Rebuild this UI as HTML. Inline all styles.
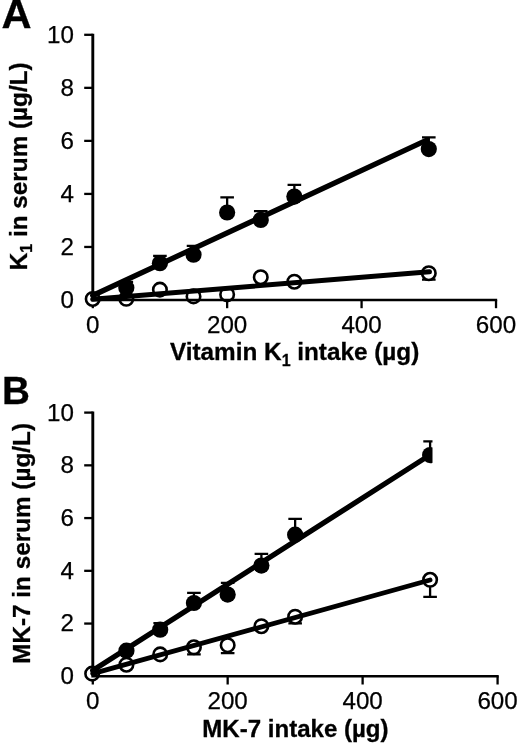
<!DOCTYPE html>
<html><head><meta charset="utf-8"><title>Figure</title>
<style>
html,body{margin:0;padding:0;background:#fff;}
svg{display:block;}
text{font-family:"Liberation Sans",Arial,Helvetica,sans-serif;fill:#000;}
.t{font-size:24.2px;stroke:#000;stroke-width:0.25px;}
.b{font-size:24.3px;font-weight:bold;stroke:#000;stroke-width:0.3px;}
.yb{font-size:24.3px;font-weight:bold;stroke:#000;stroke-width:0.3px;}
.p{font-size:38.7px;font-weight:bold;stroke:#000;stroke-width:0.3px;}
</style></head><body>
<svg width="520" height="743" viewBox="0 0 520 743">
<defs><clipPath id="cb"><rect x="0" y="380" width="432.5" height="363"/></clipPath></defs>
<rect width="520" height="743" fill="#fff"/>
<text transform="translate(1.6 28.3) scale(1.075 1.03)" class="p">A</text>
<text x="1.9" y="404.1" class="p">B</text>
<path d="M92.8 33.65 V301.15" stroke="#000" stroke-width="2.9" fill="none"/>
<path d="M84.2 246.96 H92.8" stroke="#000" stroke-width="2.3"/>
<path d="M84.2 193.92 H92.8" stroke="#000" stroke-width="2.3"/>
<path d="M84.2 140.88 H92.8" stroke="#000" stroke-width="2.3"/>
<path d="M84.2 87.84 H92.8" stroke="#000" stroke-width="2.3"/>
<path d="M84.2 34.80 H92.8" stroke="#000" stroke-width="2.3"/>
<path d="M92.80 300.00 V308.20" stroke="#000" stroke-width="2.3"/>
<path d="M227.14 300.00 V308.20" stroke="#000" stroke-width="2.3"/>
<path d="M361.58 300.00 V308.20" stroke="#000" stroke-width="2.3"/>
<path d="M496.02 300.00 V308.20" stroke="#000" stroke-width="2.3"/>
<text x="74.0" y="307.90" text-anchor="end" class="t">0</text>
<text x="74.0" y="254.86" text-anchor="end" class="t">2</text>
<text x="74.0" y="201.82" text-anchor="end" class="t">4</text>
<text x="74.0" y="148.78" text-anchor="end" class="t">6</text>
<text x="74.0" y="95.74" text-anchor="end" class="t">8</text>
<text x="74.0" y="42.70" text-anchor="end" class="t">10</text>
<text x="92.70" y="332.60" text-anchor="middle" class="t">0</text>
<text x="227.14" y="332.60" text-anchor="middle" class="t">200</text>
<text x="361.58" y="332.60" text-anchor="middle" class="t">400</text>
<text x="496.02" y="332.60" text-anchor="middle" class="t">600</text>
<path d="M428.80 273.21 V279.58 M422.00 279.58 H435.60" stroke="#000" stroke-width="2.3" fill="none"/>
<circle cx="92.70" cy="298.94" r="6.75" fill="#fff" stroke="#000" stroke-width="2.6"/>
<circle cx="126.31" cy="298.81" r="6.75" fill="#fff" stroke="#000" stroke-width="2.6"/>
<circle cx="159.92" cy="289.66" r="6.75" fill="#fff" stroke="#000" stroke-width="2.6"/>
<circle cx="193.53" cy="296.42" r="6.75" fill="#fff" stroke="#000" stroke-width="2.6"/>
<circle cx="227.14" cy="294.43" r="6.75" fill="#fff" stroke="#000" stroke-width="2.6"/>
<circle cx="260.75" cy="277.19" r="6.75" fill="#fff" stroke="#000" stroke-width="2.6"/>
<circle cx="294.36" cy="281.70" r="6.75" fill="#fff" stroke="#000" stroke-width="2.6"/>
<circle cx="428.80" cy="273.21" r="6.75" fill="#fff" stroke="#000" stroke-width="2.6"/>
<path d="M92.70 299.20 L429.47 271.76" stroke="#000" stroke-width="5.0" stroke-linecap="round"/>
<path d="M91.35 300.00 H497.17" stroke="#000" stroke-width="2.4" fill="none"/>
<path d="M126.31 287.67 V281.83 M119.51 281.83 H133.11" stroke="#000" stroke-width="2.3" fill="none"/>
<path d="M159.92 263.27 V255.84 M153.12 255.84 H166.72" stroke="#000" stroke-width="2.3" fill="none"/>
<path d="M193.53 254.65 V245.90 M186.73 245.90 H200.33" stroke="#000" stroke-width="2.3" fill="none"/>
<path d="M227.14 212.48 V197.37 M220.34 197.37 H233.94" stroke="#000" stroke-width="2.3" fill="none"/>
<path d="M260.75 219.91 V211.16 M253.95 211.16 H267.55" stroke="#000" stroke-width="2.3" fill="none"/>
<path d="M294.36 196.57 V184.90 M287.56 184.90 H301.16" stroke="#000" stroke-width="2.3" fill="none"/>
<path d="M428.80 149.10 V137.43 M422.00 137.43 H435.60" stroke="#000" stroke-width="2.3" fill="none"/>
<circle cx="126.31" cy="287.67" r="8.1" fill="#000"/>
<circle cx="159.92" cy="263.27" r="8.1" fill="#000"/>
<circle cx="193.53" cy="254.65" r="8.1" fill="#000"/>
<circle cx="227.14" cy="212.48" r="8.1" fill="#000"/>
<circle cx="260.75" cy="219.91" r="8.1" fill="#000"/>
<circle cx="294.36" cy="196.57" r="8.1" fill="#000"/>
<circle cx="428.80" cy="149.10" r="8.1" fill="#000"/>
<path d="M92.70 295.49 L426.78 140.08" stroke="#000" stroke-width="5.3" stroke-linecap="round"/>
<path d="M92.8 411.45 V677.45" stroke="#000" stroke-width="2.9" fill="none"/>
<path d="M84.2 623.56 H92.8" stroke="#000" stroke-width="2.3"/>
<path d="M84.2 570.82 H92.8" stroke="#000" stroke-width="2.3"/>
<path d="M84.2 518.08 H92.8" stroke="#000" stroke-width="2.3"/>
<path d="M84.2 465.34 H92.8" stroke="#000" stroke-width="2.3"/>
<path d="M84.2 412.60 H92.8" stroke="#000" stroke-width="2.3"/>
<path d="M92.80 676.30 V684.50" stroke="#000" stroke-width="2.3"/>
<path d="M227.66 676.30 V684.50" stroke="#000" stroke-width="2.3"/>
<path d="M362.62 676.30 V684.50" stroke="#000" stroke-width="2.3"/>
<path d="M497.58 676.30 V684.50" stroke="#000" stroke-width="2.3"/>
<text x="74.0" y="684.20" text-anchor="end" class="t">0</text>
<text x="74.0" y="631.46" text-anchor="end" class="t">2</text>
<text x="74.0" y="578.72" text-anchor="end" class="t">4</text>
<text x="74.0" y="525.98" text-anchor="end" class="t">6</text>
<text x="74.0" y="473.24" text-anchor="end" class="t">8</text>
<text x="74.0" y="420.50" text-anchor="end" class="t">10</text>
<text x="92.70" y="708.90" text-anchor="middle" class="t">0</text>
<text x="227.66" y="708.90" text-anchor="middle" class="t">200</text>
<text x="362.62" y="708.90" text-anchor="middle" class="t">400</text>
<text x="497.58" y="708.90" text-anchor="middle" class="t">600</text>
<path d="M193.92 647.29 V654.41 M187.12 654.41 H200.72" stroke="#000" stroke-width="2.3" fill="none"/>
<path d="M227.66 645.18 V653.09 M220.86 653.09 H234.46" stroke="#000" stroke-width="2.3" fill="none"/>
<path d="M295.14 616.70 V623.30 M288.34 623.30 H301.94" stroke="#000" stroke-width="2.3" fill="none"/>
<path d="M430.10 579.79 V596.93 M423.30 596.93 H436.90" stroke="#000" stroke-width="2.3" fill="none"/>
<circle cx="92.16" cy="673.66" r="6.75" fill="#fff" stroke="#000" stroke-width="2.6"/>
<circle cx="126.44" cy="664.70" r="6.75" fill="#fff" stroke="#000" stroke-width="2.6"/>
<circle cx="160.18" cy="654.41" r="6.75" fill="#fff" stroke="#000" stroke-width="2.6"/>
<circle cx="193.92" cy="647.29" r="6.75" fill="#fff" stroke="#000" stroke-width="2.6"/>
<circle cx="227.66" cy="645.18" r="6.75" fill="#fff" stroke="#000" stroke-width="2.6"/>
<circle cx="261.40" cy="626.20" r="6.75" fill="#fff" stroke="#000" stroke-width="2.6"/>
<circle cx="295.14" cy="616.70" r="6.75" fill="#fff" stroke="#000" stroke-width="2.6"/>
<circle cx="430.10" cy="579.79" r="6.75" fill="#fff" stroke="#000" stroke-width="2.6"/>
<path d="M92.70 673.66 L430.10 580.05" stroke="#000" stroke-width="4.8" stroke-linecap="round"/>
<path d="M91.35 676.30 H498.73" stroke="#000" stroke-width="2.4" fill="none"/>
<g clip-path="url(#cb)"><path d="M160.18 629.70 V623.11 M153.38 623.11 H166.98" stroke="#000" stroke-width="2.3" fill="none"/>
<path d="M193.92 602.99 V592.97 M187.12 592.97 H200.72" stroke="#000" stroke-width="2.3" fill="none"/>
<path d="M227.66 594.55 V582.95 M220.86 582.95 H234.46" stroke="#000" stroke-width="2.3" fill="none"/>
<path d="M261.40 565.55 V553.94 M254.60 553.94 H268.20" stroke="#000" stroke-width="2.3" fill="none"/>
<path d="M295.14 534.69 V518.87 M288.34 518.87 H301.94" stroke="#000" stroke-width="2.3" fill="none"/>
<path d="M430.10 455.06 V441.34 M423.30 441.34 H436.90" stroke="#000" stroke-width="2.3" fill="none"/>
<circle cx="126.44" cy="650.72" r="8.1" fill="#000"/>
<circle cx="160.18" cy="629.70" r="8.1" fill="#000"/>
<circle cx="193.92" cy="602.99" r="8.1" fill="#000"/>
<circle cx="227.66" cy="594.55" r="8.1" fill="#000"/>
<circle cx="261.40" cy="565.55" r="8.1" fill="#000"/>
<circle cx="295.14" cy="534.69" r="8.1" fill="#000"/>
<circle cx="430.10" cy="455.06" r="8.1" fill="#000"/>
<path d="M92.70 670.50 L428.08 456.11" stroke="#000" stroke-width="5.3" stroke-linecap="round"/></g>
<text class="b" x="170" y="360.3">Vitamin K<tspan font-size="16" dy="6">1</tspan><tspan dy="-6"> intake (µg)</tspan></text>
<text class="b" x="202.3" y="737.1" style="font-size:24.05px">MK-7 intake (µg)</text>
<text class="yb" transform="translate(27.4 270.2) rotate(-90)">K<tspan font-size="16" dy="5">1</tspan><tspan dy="-5"> in serum (µg/L)</tspan></text>
<text class="yb" transform="translate(30.4 663.8) rotate(-90)">MK-7 in serum (µg/L)</text>
</svg>
</body></html>
